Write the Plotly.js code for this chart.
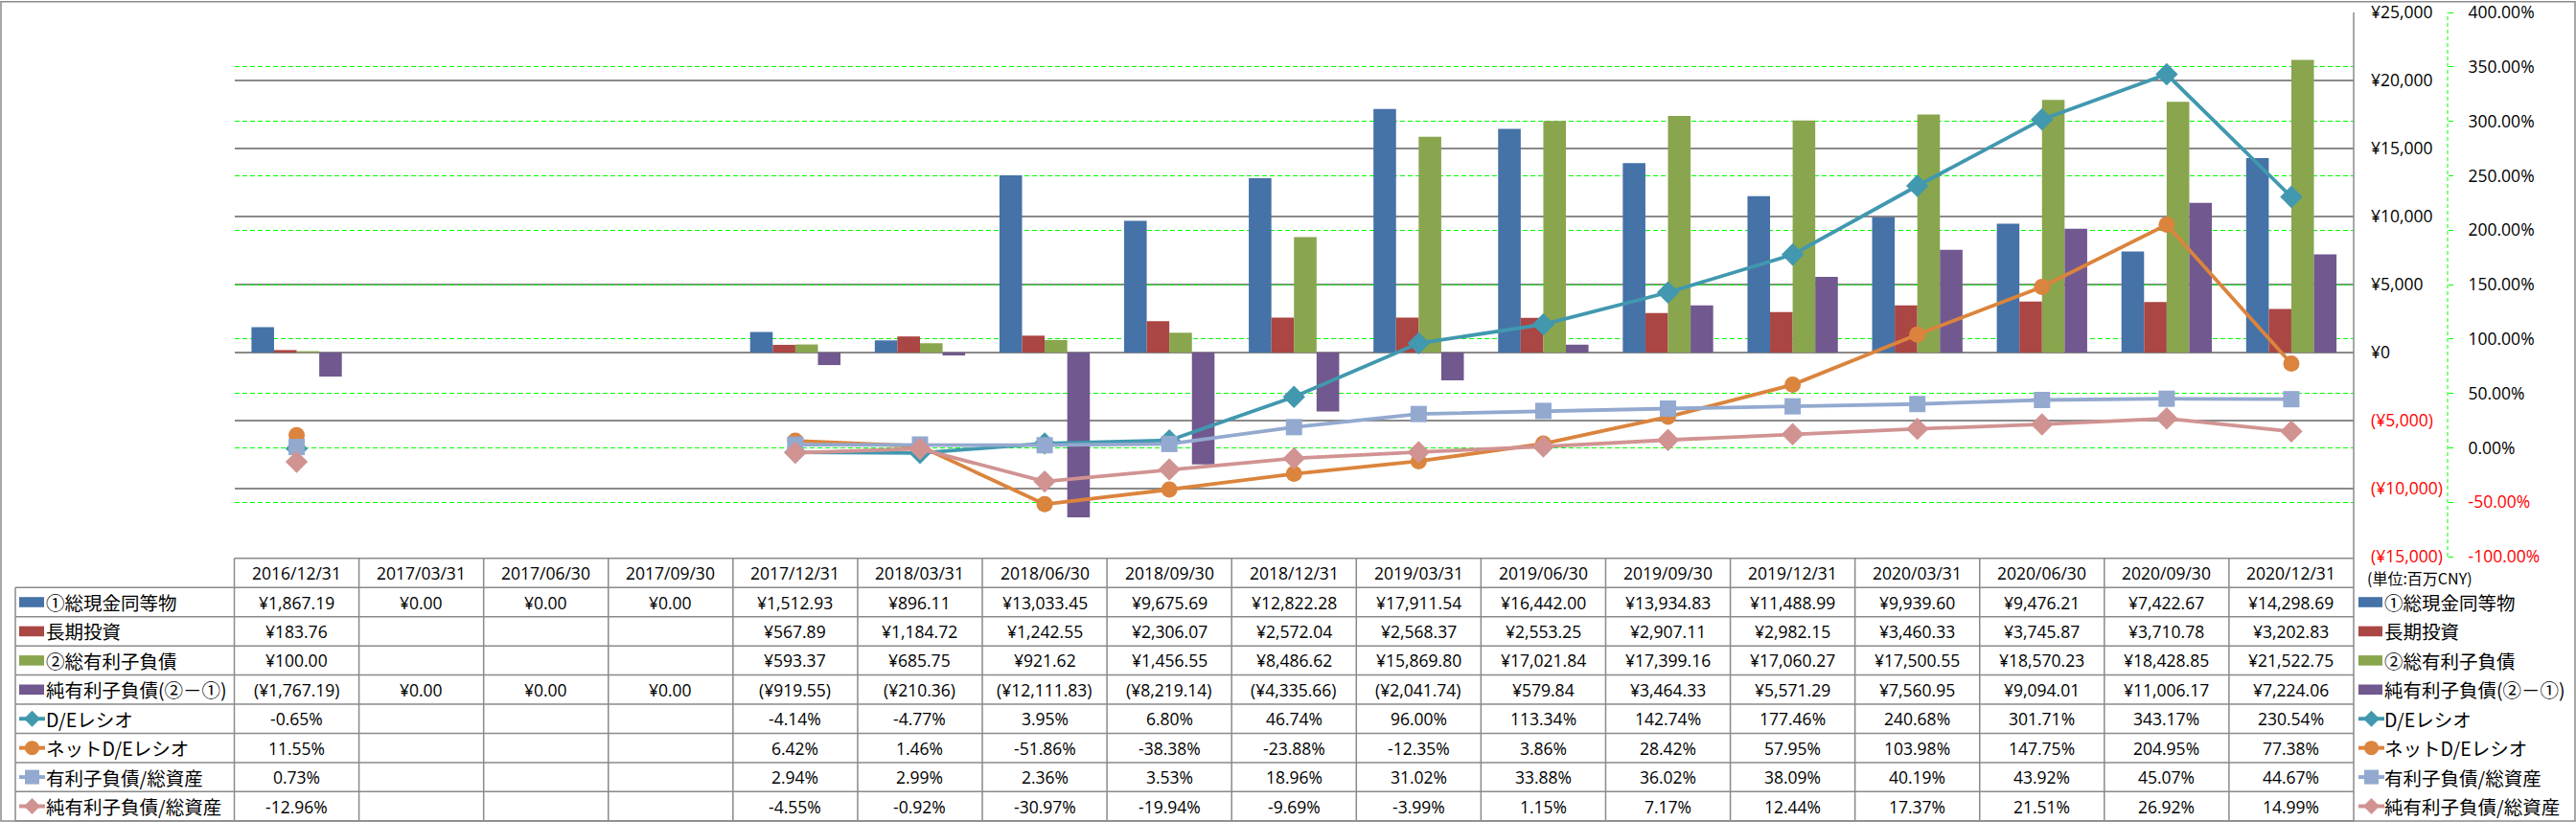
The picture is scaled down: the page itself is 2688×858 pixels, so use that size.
<!DOCTYPE html>
<html><head><meta charset="utf-8">
<script src="https://cdn.plot.ly/plotly-3.0.1.min.js"></script>
<style>html,body{margin:0;padding:0;background:#fff;} #chart{width:2688px;height:858px;}</style>
</head><body><div id="chart"></div>
<script>
// ---------------- data ----------------
const dates = ['2016/12/31','2017/03/31','2017/06/30','2017/09/30','2017/12/31','2018/03/31','2018/06/30','2018/09/30','2018/12/31','2019/03/31','2019/06/30','2019/09/30','2019/12/31','2020/03/31','2020/06/30','2020/09/30','2020/12/31'];
const cash      = [1867.19, 0, 0, 0, 1512.93, 896.11, 13033.45, 9675.69, 12822.28, 17911.54, 16442.00, 13934.83, 11488.99, 9939.60, 9476.21, 7422.67, 14298.69];
const ltInvest  = [183.76, null, null, null, 567.89, 1184.72, 1242.55, 2306.07, 2572.04, 2568.37, 2553.25, 2907.11, 2982.15, 3460.33, 3745.87, 3710.78, 3202.83];
const debt      = [100.00, null, null, null, 593.37, 685.75, 921.62, 1456.55, 8486.62, 15869.80, 17021.84, 17399.16, 17060.27, 17500.55, 18570.23, 18428.85, 21522.75];
const netDebt   = [-1767.19, 0, 0, 0, -919.55, -210.36, -12111.83, -8219.14, -4335.66, -2041.74, 579.84, 3464.33, 5571.29, 7560.95, 9094.01, 11006.17, 7224.06];
const deRatio   = [-0.65, null, null, null, -4.14, -4.77, 3.95, 6.80, 46.74, 96.00, 113.34, 142.74, 177.46, 240.68, 301.71, 343.17, 230.54];
const netDe     = [11.55, null, null, null, 6.42, 1.46, -51.86, -38.38, -23.88, -12.35, 3.86, 28.42, 57.95, 103.98, 147.75, 204.95, 77.38];
const debtAsset = [0.73, null, null, null, 2.94, 2.99, 2.36, 3.53, 18.96, 31.02, 33.88, 36.02, 38.09, 40.19, 43.92, 45.07, 44.67];
const netDebtAsset = [-12.96, null, null, null, -4.55, -0.92, -30.97, -19.94, -9.69, -3.99, 1.15, 7.17, 12.44, 17.37, 21.51, 26.92, 14.99];
const seriesNames = ['①総現金同等物','長期投資','②総有利子負債','純有利子負債(②－①)','D/Eレシオ','ネットD/Eレシオ','有利子負債/総資産','純有利子負債/総資産'];
const leftTicks  = [-15000,-10000,-5000,0,5000,10000,15000,20000,25000];
const rightTicks = [-100,-50,0,50,100,150,200,250,300,350,400];
const unitLabel = '(単位:百万CNY)';

// ---------------- styling ----------------
const colors = ['#4572A7','#AA4643','#89A54E','#71588F','#4198AF','#DB843D','#93A9CF','#D19392'];
const symbols = [null,null,null,null,'diamond','circle','square','diamond'];
const W = 2688, H = 858;
const PL = 244.5, PR = 2456, PT = 13, PB = 581;
const px = x => x / W;
const py = y => 1 - y / H;
const GRID = '#8A8A8A';
const NUMFONT = 'Open Sans, Noto Sans CJK JP, sans-serif';
const JPFONT = 'Noto Sans CJK JP, Open Sans, sans-serif';

function fmtYen(v){
  if (v === null) return '';
  const s = '¥' + Math.abs(v).toLocaleString('en-US',{minimumFractionDigits:2, maximumFractionDigits:2});
  return v < 0 ? '(' + s + ')' : s;
}
function fmtPct(v){ return v === null ? '' : v.toFixed(2) + '%'; }
function yenTick(v){
  const s = '¥' + Math.abs(v).toLocaleString('en-US');
  return v < 0 ? '<span style="color:#FF0000">(' + s + ')</span>' : s;
}
function pctTick(v){
  const s = v.toFixed(2) + '%';
  return v < 0 ? '<span style="color:#FF0000">' + s + '</span>' : s;
}

const barData = [cash, ltInvest, debt, netDebt];
const lineData = [deRatio, netDe, debtAsset, netDebtAsset];

const traces = [];
barData.forEach((arr, i) => {
  traces.push({type:'bar', x: dates, y: arr, name: seriesNames[i], marker:{color: colors[i], line:{width:0}}, yaxis:'y', xaxis:'x', hoverinfo:'skip'});
});
lineData.forEach((arr, j) => {
  const i = j + 4;
  traces.push({type:'scatter', mode:'lines+markers', x: dates, y: arr, name: seriesNames[i], yaxis:'y2', xaxis:'x',
    connectgaps:false, line:{color: colors[i], width:3.8},
    marker:{symbol: symbols[i], color: colors[i], size: symbols[i]==='diamond' ? 18 : 17, line:{width:0}}, hoverinfo:'skip', cliponaxis:false});
});

// ---------------- table geometry ----------------
const headTop = 582.7, rowTop = 613.3, rowH = 30.43, nRows = 8;
const rowEdge = k => rowTop + k * rowH;
const rowMid = k => rowTop + (k + 0.5) * rowH;
const shapes = [];
const annotations = [];
const lineStyle = {color: GRID, width: 1.5};

// outer border
shapes.push({type:'rect', xref:'paper', yref:'paper', x0:px(1), x1:px(2687), y0:py(857), y1:py(1.7), line:{color:GRID, width:1.5}});
// right edge of plot area running into the table
shapes.push({type:'line', xref:'paper', yref:'paper', x0:px(PR), x1:px(PR), y0:py(PT), y1:py(rowEdge(nRows)), line:lineStyle});
// table header top
shapes.push({type:'line', xref:'paper', yref:'paper', x0:px(PL), x1:px(PR), y0:py(headTop), y1:py(headTop), line:lineStyle});
// table row lines
for (let k = 0; k <= nRows; k++) {
  shapes.push({type:'line', xref:'paper', yref:'paper', x0:px(16), x1:px(PR), y0:py(rowEdge(k)), y1:py(rowEdge(k)), line:lineStyle});
}
// left edge of label column
shapes.push({type:'line', xref:'paper', yref:'paper', x0:px(16), x1:px(16), y0:py(rowEdge(0)), y1:py(rowEdge(nRows)), line:lineStyle});
// column separators (category boundaries on the x axis)
shapes.push({type:'line', xref:'paper', yref:'paper', x0:px(PL), x1:px(PL), y0:py(headTop), y1:py(rowEdge(nRows)), line:lineStyle});
for (let i = 1; i < dates.length; i++) {
  shapes.push({type:'line', xref:'x', yref:'paper', x0:i - 0.5, x1:i - 0.5, y0:py(headTop), y1:py(rowEdge(nRows)), line:lineStyle});
}
// secondary axis dashed line
shapes.push({type:'line', xref:'paper', yref:'paper', x0:px(2554), x1:px(2554), y0:py(PB), y1:py(PT), line:{color:'#00FF00', width:1, dash:'4px,3px'}});

// header dates
dates.forEach((d, i) => {
  annotations.push({xref:'x', yref:'paper', x:i, y:py((headTop + rowTop)/2), text:d, showarrow:false, xanchor:'center', yanchor:'middle', font:{family:NUMFONT, size:17.5, color:'#000'}});
});
// cell values
const allData = [cash, ltInvest, debt, netDebt, deRatio, netDe, debtAsset, netDebtAsset];
allData.forEach((arr, k) => {
  arr.forEach((v, i) => {
    if (v === null) return;
    annotations.push({xref:'x', yref:'paper', x:i, y:py(rowMid(k)), text: k < 4 ? fmtYen(v) : fmtPct(v), showarrow:false, xanchor:'center', yanchor:'middle', font:{family:NUMFONT, size:17.5, color:'#000'}});
  });
});

// legend keys (left label column and right legend)
function addKey(k, xStart, keyW, textX) {
  const yc = rowMid(k);
  const c = colors[k];
  if (k < 4) {
    shapes.push({type:'rect', xref:'paper', yref:'paper', x0:px(xStart), x1:px(xStart + keyW), y0:py(yc + 5.3), y1:py(yc - 5.3), fillcolor:c, line:{width:0}});
  } else {
    const xc = xStart + keyW / 2;
    shapes.push({type:'line', xref:'paper', yref:'paper', x0:px(xStart), x1:px(xStart + keyW), y0:py(yc), y1:py(yc), line:{color:c, width:4}});
    const s = symbols[k];
    if (s === 'circle') {
      shapes.push({type:'circle', xref:'paper', yref:'paper', x0:px(xc - 7.5), x1:px(xc + 7.5), y0:py(yc + 7.5), y1:py(yc - 7.5), fillcolor:c, line:{width:0}});
    } else if (s === 'square') {
      shapes.push({type:'rect', xref:'paper', yref:'paper', x0:px(xc - 7.5), x1:px(xc + 7.5), y0:py(yc + 7.5), y1:py(yc - 7.5), fillcolor:c, line:{width:0}});
    } else {
      const r = 8.5;
      const path = 'M' + px(xc - r) + ',' + py(yc) + ' L' + px(xc) + ',' + py(yc - r) + ' L' + px(xc + r) + ',' + py(yc) + ' L' + px(xc) + ',' + py(yc + r) + ' Z';
      shapes.push({type:'path', xref:'paper', yref:'paper', path: path, fillcolor:c, line:{width:0}});
    }
  }
  annotations.push({xref:'paper', yref:'paper', x:px(textX), y:py(yc), text:seriesNames[k], showarrow:false, xanchor:'left', yanchor:'middle', font:{family:JPFONT, size:19.5, color:'#000'}});
}
for (let k = 0; k < nRows; k++) {
  addKey(k, 20, k < 4 ? 26 : 27, 46);
  addKey(k, 2461, k < 4 ? 25 : 27, 2486);
}
annotations.push({xref:'paper', yref:'paper', x:px(2468), y:py(603), text:unitLabel, showarrow:false, xanchor:'left', yanchor:'middle', font:{family:JPFONT, size:16, color:'#000'}});

const layout = {
  width: W, height: H,
  margin: {l:0, r:0, t:0, b:0, pad:0},
  paper_bgcolor:'#fff', plot_bgcolor:'#fff',
  showlegend:false,
  barmode:'group', bargap:0.275, bargroupgap:0,
  font:{family:NUMFONT, color:'#000', size:17.5},
  xaxis:{type:'category', domain:[px(PL), px(PR)], range:[-0.5, dates.length - 0.5], showticklabels:false, showgrid:false, zeroline:false, showline:false, ticks:''},
  yaxis:{domain:[py(PB), py(PT)], range:[-15000, 25000], side:'right', anchor:'x',
    tickmode:'array', tickvals:leftTicks, ticktext:leftTicks.map(yenTick),
    showgrid:true, gridcolor:GRID, gridwidth:1.5, zeroline:false, showline:false, ticks:'',
    ticklabelstandoff:17, tickfont:{family:NUMFONT, size:17.5, color:'#000'}},
  yaxis2:{overlaying:'y', anchor:'free', position:px(2554), side:'right', range:[-100, 400],
    tickmode:'array', tickvals:rightTicks, ticktext:rightTicks.map(pctTick),
    showgrid:true, gridcolor:'#00FF00', gridwidth:1, griddash:'5px,3px', zeroline:false, showline:false,
    ticks:'outside', ticklen:5, tickcolor:'#00FF00', tickwidth:1, ticklabelstandoff:12,
    tickfont:{family:NUMFONT, size:17.5, color:'#000'}},
  shapes: shapes,
  annotations: annotations
};
Plotly.newPlot('chart', traces, layout, {displayModeBar:false, staticPlot:true});
</script>
</body></html>
